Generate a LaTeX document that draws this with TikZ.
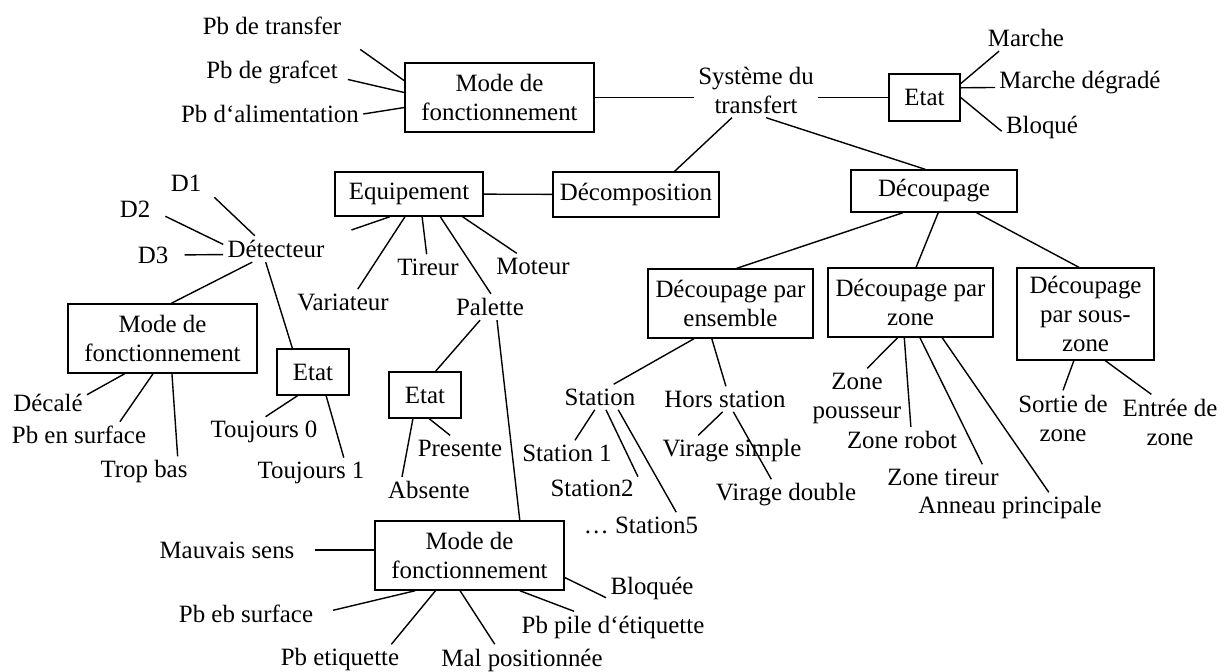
\documentclass[tikz,border=0pt]{standalone}
\usepackage{fontspec}
\setmainfont{Liberation Serif}
\tikzset{
  texte/.style={align=center, inner sep=2pt, font=\fontsize{12.45}{14.5}\selectfont},
  boite/.style={texte, draw, line width=0.7pt},
  taille/.style 2 args={minimum width=#1*0.5pt, minimum height=#2*0.5pt},
  lien/.style={line width=0.7pt}
}
\begin{document}
\begin{tikzpicture}[x=0.5pt, y=-0.5pt]
  \useasboundingbox (0,0) rectangle (1228,671);
  % systeme du transfert
  \node[texte] (pbTransfert) at (272,26) {Pb de transfer};
  \node[texte] (pbGrafcet) at (272,72) {Pb de grafcet};
  \node[texte] (pbAlim) at (270,114) {Pb d‘alimentation};
  \node[boite, taille={189}{69}] (modeSys) at (499.5,97.5) {Mode de\\fonctionnement};
  \node[texte] (systeme) at (756,90) {Système du\\transfert};
  \node[boite, taille={71}{47}] (etatSys) at (924.5,97.5) {Etat};
  \node[texte] (marche) at (1026,38) {Marche};
  \node[texte] (marcheDeg) at (1080,83) {Marche dégradé};
  \node[texte] (bloque) at (1042,127) {Bloqué};
  \node[boite, taille={166}{45}] (decomp) at (636,194.5) {Décomposition};
  \node[boite, taille={148}{44}] (equip) at (409,194) {Equipement};
  \node[boite, taille={166}{42}] (decoup) at (934,191) {Découpage};
  % detecteur
  \node[texte] (d1) at (186,183) {D1};
  \node[texte] (d2) at (135,209) {D2};
  \node[texte] (d3) at (153,255) {D3};
  \node[texte] (detecteur) at (276,249) {Détecteur};
  \node[boite, taille={189}{69}] (modeDet) at (162.5,338.5) {Mode de\\fonctionnement};
  \node[boite, taille={72}{46}] (etatDet) at (313,372) {Etat};
  \node[texte] (decale) at (48,403) {Décalé};
  \node[texte] (pbSurf) at (79,435) {Pb en surface};
  \node[texte] (tropBas) at (144,472) {Trop bas};
  \node[texte] (toujours0) at (264,432) {Toujours 0};
  \node[texte] (toujours1) at (311,473) {Toujours 1};
  % equipement
  \node[texte] (variateur) at (343,302) {Variateur};
  \node[texte] (tireur) at (428,267) {Tireur};
  \node[texte] (palette) at (490,307) {Palette};
  \node[texte] (moteur) at (533,266) {Moteur};
  \node[boite, taille={72}{46}] (etatPal) at (425,395) {Etat};
  \node[texte] (presente) at (460,448) {Presente};
  \node[texte] (absente) at (429,490) {Absente};
  \node[boite, taille={189}{69}] (modePal) at (469.5,555.5) {Mode de\\fonctionnement};
  \node[texte] (mauvaisSens) at (227,550) {Mauvais sens};
  \node[texte] (pbEb) at (246,614) {Pb eb surface};
  \node[texte] (pbEtiq) at (340,660) {Pb etiquette};
  \node[texte] (malPos) at (522,660) {Mal positionnée};
  \node[texte] (pbPile) at (613,627) {Pb pile d‘étiquette};
  \node[texte] (bloquee) at (652,588) {Bloquée};
  % decoupage
  \node[boite, taille={165}{69}] (parEns) at (730.5,303.5) {Découpage par\\ensemble};
  \node[boite, taille={165}{69}] (parZone) at (910.5,302.5) {Découpage par\\zone};
  \node[boite, taille={137}{92}] (parSous) at (1085.5,314) {Découpage\\par sous-\\zone};
  \node[texte] (station) at (600,397) {Station};
  \node[texte] (horsStation) at (725,399) {Hors station};
  \node[texte] (station1) at (567,453) {Station 1};
  \node[texte] (station2) at (592,488) {Station2};
  \node[texte] (station5) at (641,525) {… Station5};
  \node[texte] (virSimple) at (732,451) {Virage simple};
  \node[texte] (virDouble) at (786,495) {Virage double};
  \node[texte] (zonePous) at (857,398) {Zone\\pousseur};
  \node[texte] (zoneRobot) at (902,440) {Zone robot};
  \node[texte] (zoneTireur) at (943,477) {Zone tireur};
  \node[texte] (anneau) at (1010,508) {Anneau principale};
  \node[texte] (sortie) at (1063,418) {Sortie de\\zone};
  \node[texte] (entree) at (1170,422) {Entrée de\\zone};

  % liens du haut
  \draw[lien, shorten <=9pt] (pbTransfert.-10) -- (modeSys.170);
  \draw[lien, shorten <=3pt] (pbGrafcet.-5) -- (modeSys.177);
  \draw[lien] (pbAlim.east) -- (modeSys.-174);
  \draw[lien] (modeSys.east) -- (modeSys.east -| systeme.west);
  \draw[lien] (etatSys.west -| systeme.east) -- (etatSys.west);
  \draw[lien] (etatSys.21) -- (marche.206);
  \draw[lien] (etatSys.15) -- (marcheDeg.183);
  \draw[lien] (etatSys.east) -- (bloque.186);
  \draw[lien] (systeme.-131) -- (decomp.31);
  \draw[lien] (systeme.-70) -- (decoup.112);
  \draw[lien] (equip) -- (decomp);
  \draw[lien] (decoup.215) -- (parEns.80);
  \draw[lien] (decoup.-79) -- (parZone.81);
  \draw[lien] (decoup.-27) -- (parSous.98);
  % liens equipement
  \draw[lien, shorten >=12pt] (equip.230) -- (detecteur.12);
  \draw[lien] (equip.-100) -- (variateur.41);
  \draw[lien] (equip.-60) -- (tireur.96);
  \draw[lien] (equip.-36) -- (palette.86);
  \draw[lien] (equip.-23) -- (moteur.142);
  \draw[lien, shorten >=6pt] (detecteur.148) -- (d1.-17);
  \draw[lien, shorten >=6pt] (detecteur.175) -- (d2.-6);
  \draw[lien, shorten >=6pt] (detecteur.186) -- (d3.east);
  \draw[lien] (detecteur.209) -- (modeDet.76);
  \draw[lien] (detecteur.-128) -- (etatDet.131);
  \draw[lien] (modeDet.223) -- (decale.12);
  \draw[lien] (modeDet.-105) -- (pbSurf.18);
  \draw[lien] (modeDet.-75) -- (tropBas.25);
  \draw[lien] (etatDet.-123) -- (toujours0.84);
  \draw[lien] (etatDet.-61) -- (toujours1.25);
  \draw[lien] (palette.-127) -- (etatPal.66);
  \draw[lien] (palette.-62) -- (modePal.35);
  \draw[lien] (etatPal.-80) -- (presente.128);
  \draw[lien] (etatPal.-117) -- (absente.154);
  \draw[lien, shorten <=8pt] (mauvaisSens.east) -- (mauvaisSens.east -| modePal.west);
  \draw[lien, shorten <=8pt] (pbEb.east) -- (modePal.-147);
  \draw[lien] (modePal.-134) -- (pbEtiq.17);
  \draw[lien] (modePal.-105) -- (malPos.150);
  \draw[lien] (modePal.-35.5) -- (pbPile.158);
  \draw[lien] (modePal.-13) -- (bloquee.192);
  % liens decoupage
  \draw[lien] (parEns.-136) -- (station.43);
  \draw[lien] (parEns.-118) -- (horsStation.86);
  \draw[lien] (station.-112) -- (station1.58);
  \draw[lien] (station.-65) -- (station2.14);
  \draw[lien] (station.-35) -- (station5.20);
  \draw[lien] (horsStation.-100) -- (virSimple.155);
  \draw[lien] (horsStation.-57) -- (virDouble.133);
  \draw[lien] (parZone.-110) -- (zonePous.71);
  \draw[lien] (parZone.-100) -- (zoneRobot.56);
  \draw[lien] (parZone.-75) -- (zoneTireur.18);
  \draw[lien] (parZone.-48) -- (anneau.22);
  \draw[lien] (parSous.-104) -- (sortie.north);
  \draw[lien] (parSous.-67.5) -- (entree.124);
\end{tikzpicture}
\end{document}
